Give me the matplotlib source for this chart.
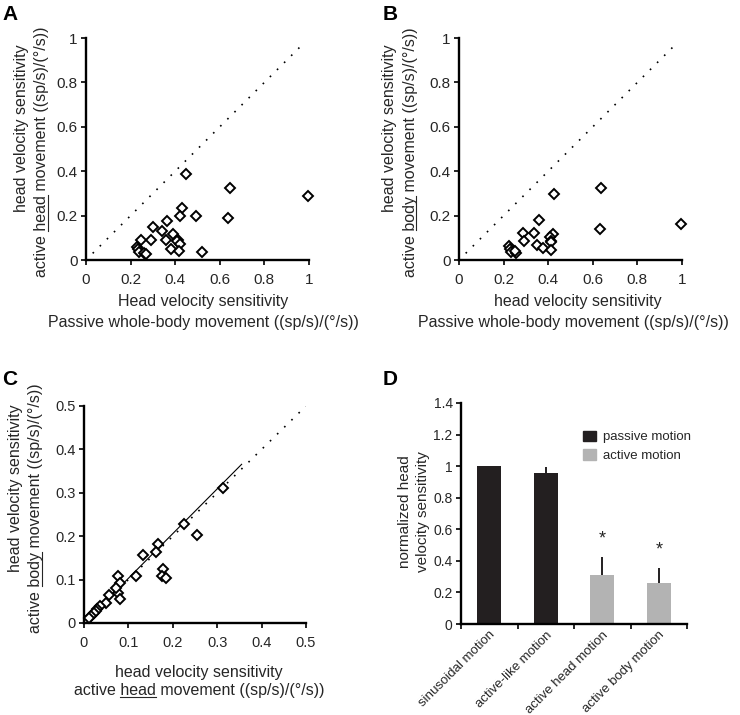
import numpy as np
import matplotlib
matplotlib.use('Agg')
import matplotlib.pyplot as plt
from matplotlib.lines import Line2D
from matplotlib.patches import Patch
from matplotlib.ticker import FuncFormatter, MultipleLocator, FixedLocator

plt.rcParams['font.family'] = ['Liberation Sans', 'DejaVu Sans']

# panel A: passive whole-body vs active head movement
a_passive = [0.448, 0.646, 0.997, 0.432, 0.422, 0.493, 0.635, 0.362, 0.302,
             0.341, 0.390, 0.359, 0.292, 0.247, 0.414, 0.408, 0.422, 0.380,
             0.417, 0.522, 0.227, 0.235, 0.239, 0.262, 0.268]
a_active = [0.387, 0.323, 0.290, 0.236, 0.198, 0.200, 0.191, 0.174, 0.148,
            0.130, 0.116, 0.091, 0.090, 0.091, 0.092, 0.084, 0.073, 0.049,
            0.041, 0.036, 0.060, 0.048, 0.038, 0.030, 0.025]

# panel B: passive whole-body vs active body movement
b_passive = [0.638, 0.427, 0.997, 0.631, 0.358, 0.287, 0.335, 0.421, 0.408,
             0.290, 0.414, 0.411, 0.351, 0.378, 0.411, 0.222, 0.227, 0.233,
             0.257, 0.250]
b_active = [0.325, 0.297, 0.163, 0.139, 0.178, 0.123, 0.123, 0.119, 0.105,
            0.084, 0.085, 0.079, 0.069, 0.053, 0.043, 0.062, 0.048, 0.038,
            0.031, 0.042]

# panel C: active head vs active body
c_head = [0.312, 0.226, 0.254, 0.166, 0.163, 0.132, 0.179, 0.175, 0.185,
          0.118, 0.076, 0.081, 0.077, 0.080, 0.071, 0.056, 0.049, 0.037,
          0.030, 0.026, 0.022, 0.016, 0.012]
c_body = [0.311, 0.229, 0.202, 0.181, 0.164, 0.157, 0.125, 0.109, 0.104,
          0.108, 0.108, 0.092, 0.069, 0.055, 0.080, 0.064, 0.046, 0.040,
          0.032, 0.027, 0.023, 0.015, 0.012]
fit_slope = 1.03
fit_intercept = 0.0
fit_range = [0.01, 0.355]

unity_ab = [0.03, 0.98]
unity_c = [0.0, 0.5]

# panel D: normalized sensitivity
d_labels = ['sinusoidal motion', 'active-like motion',
            'active head motion', 'active body motion']
d_means = [1.0, 0.955, 0.308, 0.261]
d_err = [0.0, 0.04, 0.116, 0.093]
d_group = ['passive', 'passive', 'active', 'active']
d_star = [False, False, True, True]

W, H = 740, 715
fig = plt.figure(figsize=(W / 100, H / 100), dpi=100)
TXT = '#262626'


def rect(x0, y0, x1, y1):
    return [x0 / W, 1 - y1 / H, (x1 - x0) / W, (y1 - y0) / H]


def fmt(v, pos):
    return '%g' % round(v, 3)


def style(ax, size):
    for s in ['top', 'right']:
        ax.spines[s].set_visible(False)
    for s in ['left', 'bottom']:
        ax.spines[s].set_linewidth(1.7)
    ax.tick_params(direction='out', length=3.5, width=1.2, labelsize=size,
                   labelcolor=TXT)
    ax.tick_params(axis='x', pad=6)
    ax.tick_params(axis='y', pad=2.5)


def ftext(x, y, s, **kw):
    return fig.text(x / W, 1 - y / H, s, color=TXT, **kw)


def scatter_panel(ax, xs, ys, lim, step, unity):
    ax.plot(unity, unity, color='black', lw=1.2, ls=(0, (1, 5)))
    ax.plot(xs, ys, ls='none', marker='D', ms=5.4, mfc='white',
            mec='black', mew=1.4, clip_on=False, zorder=3)
    ax.set_xlim(0, lim)
    ax.set_ylim(0, lim)
    ax.xaxis.set_major_locator(MultipleLocator(step))
    ax.yaxis.set_major_locator(MultipleLocator(step))
    ax.xaxis.set_major_formatter(FuncFormatter(fmt))
    ax.yaxis.set_major_formatter(FuncFormatter(fmt))


LBL = 11.5
unders = []

# A
axA = fig.add_axes(rect(86, 38, 309, 260))
scatter_panel(axA, a_passive, a_active, 1.0, 0.2, unity_ab)
style(axA, 11)
ftext(203, 302, 'Head velocity sensitivity', ha='center', va='center', fontsize=LBL)
ftext(203, 322, 'Passive whole-body movement ((sp/s)/(°/s))', ha='center',
      va='center', fontsize=LBL)
ftext(22, 128, 'head velocity sensitivity', ha='center', va='center',
      rotation=90, fontsize=LBL)
t = ftext(42, 152, 'active head movement ((sp/s)/(°/s))', ha='center',
          va='center', rotation=90, fontsize=LBL)
unders.append((t, 'active ', 'head', True))

# B
axB = fig.add_axes(rect(459, 38, 682, 260))
scatter_panel(axB, b_passive, b_active, 1.0, 0.2, unity_ab)
style(axB, 11)
ftext(578, 302, 'head velocity sensitivity', ha='center', va='center', fontsize=LBL)
ftext(573, 322, 'Passive whole-body movement ((sp/s)/(°/s))', ha='center',
      va='center', fontsize=LBL)
ftext(390, 128, 'head velocity sensitivity', ha='center', va='center',
      rotation=90, fontsize=LBL)
t = ftext(410, 152, 'active body movement ((sp/s)/(°/s))', ha='center',
          va='center', rotation=90, fontsize=LBL)
unders.append((t, 'active ', 'body', True))

# C
axC = fig.add_axes(rect(84, 406, 306, 623))
scatter_panel(axC, c_head, c_body, 0.5, 0.1, unity_c)
fx = np.array(fit_range)
axC.plot(fx, fit_slope * fx + fit_intercept, color='black', lw=0.8)
style(axC, 10.5)
ftext(199, 672, 'head velocity sensitivity', ha='center', va='center', fontsize=LBL)
t = ftext(199, 691, 'active head movement ((sp/s)/(°/s))', ha='center',
          va='center', fontsize=LBL)
unders.append((t, 'active ', 'head', False))
ftext(16, 488, 'head velocity sensitivity', ha='center', va='center',
      rotation=90, fontsize=LBL)
t = ftext(36, 508, 'active body movement ((sp/s)/(°/s))', ha='center',
          va='center', rotation=90, fontsize=LBL)
unders.append((t, 'active ', 'body', True))

# D
axD = fig.add_axes(rect(461, 403, 687, 624))
colors = {'passive': '#231f20', 'active': '#b3b3b3'}
pos = np.arange(len(d_labels)) + 0.5
axD.bar(pos, d_means, width=0.43, color=[colors[g] for g in d_group], zorder=2)
axD.errorbar(pos, d_means, yerr=[np.zeros(len(d_err)), d_err], fmt='none',
             ecolor='#231f20', elinewidth=1.4, capsize=0, zorder=1)
for p, m, e, s in zip(pos, d_means, d_err, d_star):
    if s:
        axD.text(p, m + e + 0.115, '*', ha='center', va='center',
                 fontsize=13, color=TXT)
axD.set_xlim(0, len(d_labels))
axD.set_ylim(0, 1.4)
axD.yaxis.set_major_locator(MultipleLocator(0.2))
axD.yaxis.set_major_formatter(FuncFormatter(fmt))
axD.set_xticks(pos)
axD.set_xticklabels(d_labels, rotation=45, ha='right', va='top',
                    rotation_mode='anchor')
axD.xaxis.set_minor_locator(FixedLocator(np.arange(len(d_labels) + 1)))
style(axD, 10)
axD.tick_params(axis='x', which='major', length=0, pad=3.5, labelsize=9.5)
axD.tick_params(axis='x', which='minor', direction='out', length=3.5, width=1.2)
handles = [Patch(color=colors['passive'], label='passive motion'),
           Patch(color=colors['active'], label='active motion')]
leg = axD.legend(handles=handles, loc='upper left', bbox_to_anchor=(0.54, 0.875),
                 frameon=False, fontsize=9.5, handlelength=1.0, handleheight=0.85,
                 handletextpad=0.5, labelspacing=0.45, borderpad=0,
                 borderaxespad=0)
for tx in leg.get_texts():
    tx.set_color(TXT)
ftext(405, 512, 'normalized head', ha='center', va='center', rotation=90,
      fontsize=11)
ftext(423, 512, 'velocity sensitivity', ha='center', va='center', rotation=90,
      fontsize=11)

# panel letters
for letter, x, y in [('A', 2, 20), ('B', 383, 20), ('C', 2, 385), ('D', 383, 385)]:
    fig.text(x / W, 1 - y / H, letter, fontsize=15, fontweight='bold',
             va='baseline', ha='left', color='black')

# underline the emphasised words
fig.canvas.draw()
r = fig.canvas.get_renderer()
inv = fig.transFigure.inverted()
for t, pre, word, vert in unders:
    fp = t.get_fontproperties()
    w1 = r.get_text_width_height_descent(pre + word, fp, ismath=False)[0]
    ww = r.get_text_width_height_descent(word, fp, ismath=False)[0]
    d = r.get_text_width_height_descent('lp', fp, ismath=False)[2]
    bb = t.get_window_extent(r)
    if vert:
        xu = bb.x1 - d + 1.5
        p0, p1 = (xu, bb.y0 + w1 - ww), (xu, bb.y0 + w1)
    else:
        yu = bb.y0 + d - 1.5
        p0, p1 = (bb.x0 + w1 - ww, yu), (bb.x0 + w1, yu)
    (x0, y0), (x1, y1) = inv.transform([p0, p1])
    fig.add_artist(Line2D([x0, x1], [y0, y1], color=TXT, lw=0.8,
                          transform=fig.transFigure))

fig.savefig('out.png', dpi=100)
